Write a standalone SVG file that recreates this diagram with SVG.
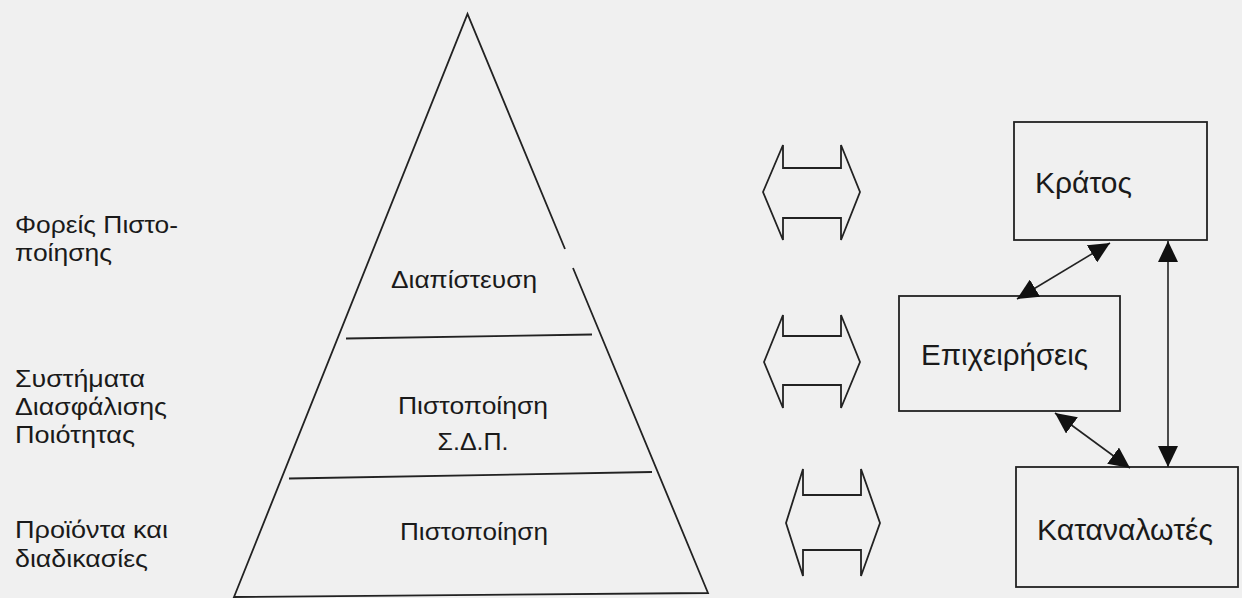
<svg xmlns="http://www.w3.org/2000/svg" width="1242" height="598" viewBox="0 0 1242 598">
<style>
.ln{fill:none;stroke:#222;stroke-width:1.8;stroke-linejoin:miter}
.bx{fill:none;stroke:#222;stroke-width:1.8}
.t{font-family:"Liberation Sans",Arial,sans-serif;font-size:24px;fill:#1a1a1a}
.tb{font-size:29px}
.tm{text-anchor:middle}
.cn{stroke:#222;stroke-width:1.6;fill:none;marker-start:url(#ah);marker-end:url(#ah)}
</style>
<defs>
<marker id="ah" markerUnits="userSpaceOnUse" markerWidth="22" markerHeight="20" refX="21" refY="10" orient="auto-start-reverse" viewBox="0 0 22 20">
<path d="M0,0 L21,10 L0,20 z" fill="#111"/>
</marker>
</defs>
<rect width="1242" height="598" fill="#f0f0f0"/>

<g id="left-labels">
<text class="t" x="15" y="233" textLength="163" lengthAdjust="spacingAndGlyphs">Φορείς Πιστο-</text>
<text class="t" x="15" y="261" textLength="97" lengthAdjust="spacingAndGlyphs">ποίησης</text>
<text class="t" x="15" y="387" textLength="130" lengthAdjust="spacingAndGlyphs">Συστήματα</text>
<text class="t" x="15" y="415" textLength="152" lengthAdjust="spacingAndGlyphs">Διασφάλισης</text>
<text class="t" x="15" y="443" textLength="120" lengthAdjust="spacingAndGlyphs">Ποιότητας</text>
<text class="t" x="15" y="538" textLength="153" lengthAdjust="spacingAndGlyphs">Προϊόντα και</text>
<text class="t" x="15" y="567" textLength="133" lengthAdjust="spacingAndGlyphs">διαδικασίες</text>
</g>

<g id="pyramid">
<polyline class="ln" points="565,249 467.5,14 234,597 708,593 573,268"/>
<line class="ln" x1="346" y1="338.5" x2="592" y2="334.5"/>
<line class="ln" x1="289" y1="478.5" x2="652" y2="472"/>
<text class="t tm" x="464" y="288" textLength="146" lengthAdjust="spacingAndGlyphs">Διαπίστευση</text>
<text class="t tm" x="473" y="414" textLength="150" lengthAdjust="spacingAndGlyphs">Πιστοποίηση</text>
<text class="t tm" x="473" y="450" textLength="71" lengthAdjust="spacingAndGlyphs">Σ.Δ.Π.</text>
<text class="t tm" x="474" y="540" textLength="148" lengthAdjust="spacingAndGlyphs">Πιστοποίηση</text>
</g>

<g id="block-arrows">
<path id="barrow1" class="ln" d="M763,192 L783,145 L783,168 L841,168 L841,145 L860,192 L841,240 L841,218 L783,218 L783,240 Z"/>
<path id="barrow2" class="ln" d="M764,362 L783,315 L783,336 L841,336 L841,315 L860,362 L841,408 L841,385 L783,385 L783,408 Z"/>
<path id="barrow3" class="ln" d="M786,523 L803,469 L803,495 L861,495 L861,469 L880,523 L861,576 L861,550 L803,550 L803,576 Z"/>
</g>

<g id="kratos">
<rect class="bx" x="1014" y="122" width="193" height="118"/>
<text class="t tb" x="1035" y="193" textLength="97" lengthAdjust="spacingAndGlyphs">Κράτος</text>
</g>
<g id="epixeiriseis">
<rect class="bx" x="899" y="296" width="221" height="115"/>
<text class="t tb" x="921" y="365" textLength="167" lengthAdjust="spacingAndGlyphs">Επιχειρήσεις</text>
</g>
<g id="katanalotes">
<rect class="bx" x="1016" y="467" width="222" height="120"/>
<text class="t tb" x="1037" y="540" textLength="176" lengthAdjust="spacingAndGlyphs">Καταναλωτές</text>
</g>

<g id="connectors">
<line class="cn" x1="1110" y1="243" x2="1017" y2="299"/>
<line class="cn" x1="1055" y1="413" x2="1130" y2="468"/>
<line class="cn" x1="1168" y1="241" x2="1168" y2="467"/>
</g>
</svg>
